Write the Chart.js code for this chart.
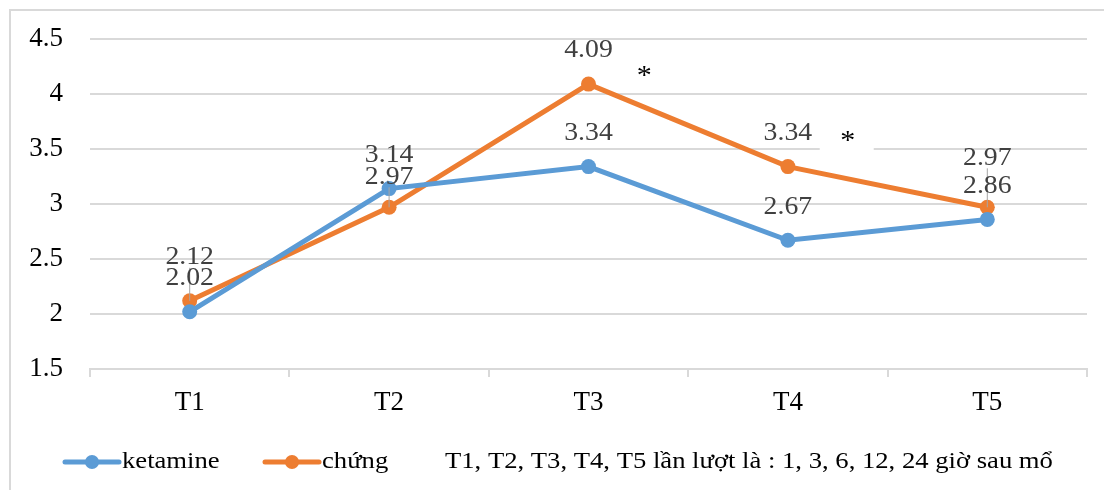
<!DOCTYPE html>
<html>
<head>
<meta charset="utf-8">
<script src="https://cdn.jsdelivr.net/npm/chart.js@4.4.1/dist/chart.umd.min.js"></script>
<style>
  html, body { margin: 0; padding: 0; background: #fff; }
  #wrap { width: 1104px; height: 490px; position: relative; }
</style>
</head>
<body>
<div id="wrap"><canvas id="c" width="1104" height="490"></canvas></div>
<script>
// ---- data ----
const categories = ['T1', 'T2', 'T3', 'T4', 'T5'];
const ketamine = [2.02, 3.14, 3.34, 2.67, 2.86];
const chung = [2.12, 2.97, 4.09, 3.34, 2.97];
const seriesNames = ['ketamine', 'chứng'];
const footnote = 'T1, T2, T3, T4, T5 lần lượt là : 1, 3, 6, 12, 24 giờ sau mổ';
const yTicks = [1.5, 2, 2.5, 3, 3.5, 4, 4.5];
const significance = [ { x: 2.28, y: 4.2, text: '*', box: false }, { x: 3.30, y: 3.61, text: '*', box: true } ];

const BLUE = '#5B9BD5', ORANGE = '#ED7D31', GRID = '#d9d9d9';
const SERIF = '"Liberation Serif", "Times New Roman", serif';
const STRETCH = 1.11;

// label placement (pixel offsets above the point, style only)
const labelOffsets = [[-33, -33, -33, -33, -33], [-43, -30, -34, -33, -49]];
const leader = [[false, false, false, false, false], [true, true, false, false, true]];

function stretchedText(ctx, text, x, y, align) {
  ctx.save();
  ctx.translate(x, y);
  ctx.scale(STRETCH, 1);
  ctx.textAlign = align;
  ctx.textBaseline = 'middle';
  ctx.fillText(text, 0, 0);
  ctx.restore();
}

const framePlugin = {
  id: 'frame',
  beforeDraw(chart) {
    const ctx = chart.ctx;
    ctx.save();
    ctx.fillStyle = '#fff';
    ctx.fillRect(0, 0, chart.width, chart.height);
    ctx.strokeStyle = GRID;
    ctx.lineWidth = 2;
    ctx.strokeRect(10, 10, chart.width + 20, chart.height + 20);
    ctx.restore();
  }
};

const starPlugin = {
  id: 'stars',
  beforeDatasetsDraw(chart) {
    const ctx = chart.ctx, xs = chart.scales.x, ys = chart.scales.y;
    ctx.save();
    significance.forEach(s => {
      const px = xs.getPixelForValue(s.x), py = ys.getPixelForValue(s.y);
      if (s.box) { ctx.fillStyle = '#fff'; ctx.fillRect(px - 28, py - 20, 54, 34); }
      ctx.fillStyle = '#000';
      ctx.font = '27px ' + SERIF;
      stretchedText(ctx, s.text, px, py + 5, 'center');
    });
    ctx.restore();
  }
};

const labelPlugin = {
  id: 'valueLabels',
  afterDatasetsDraw(chart) {
    const ctx = chart.ctx;
    ctx.save();
    chart.data.datasets.forEach((ds, di) => {
      const meta = chart.getDatasetMeta(di);
      meta.data.forEach((pt, i) => {
        const ly = pt.y + labelOffsets[di][i];
        if (leader[di][i]) {
          ctx.strokeStyle = '#a6a6a6';
          ctx.lineWidth = 1;
          ctx.beginPath();
          ctx.moveTo(pt.x, pt.y);
          ctx.lineTo(pt.x, ly + 10);
          ctx.stroke();
        }
      });
    });
    chart.data.datasets.forEach((ds, di) => {
      const meta = chart.getDatasetMeta(di);
      meta.data.forEach((pt, i) => {
        const ly = pt.y + labelOffsets[di][i];
        ctx.fillStyle = '#404040';
        ctx.font = '25px ' + SERIF;
        stretchedText(ctx, ds.data[i].toFixed(2), pt.x, ly, 'center');
      });
    });
    ctx.restore();
  }
};

const legendPlugin = {
  id: 'bottomLegend',
  afterDraw(chart) {
    const ctx = chart.ctx;
    const y = 462;
    ctx.save();
    const items = [
      { color: BLUE, name: seriesNames[0], x: 65 },
      { color: ORANGE, name: seriesNames[1], x: 265 }
    ];
    items.forEach(it => {
      ctx.strokeStyle = it.color;
      ctx.lineWidth = 5;
      ctx.lineCap = 'round';
      ctx.beginPath();
      ctx.moveTo(it.x, y);
      ctx.lineTo(it.x + 54, y);
      ctx.stroke();
      ctx.fillStyle = it.color;
      ctx.beginPath();
      ctx.arc(it.x + 27, y, 7, 0, Math.PI * 2);
      ctx.fill();
      ctx.fillStyle = '#000';
      ctx.font = '24px ' + SERIF;
      stretchedText(ctx, it.name, it.x + 57, y, 'left');
    });
    ctx.fillStyle = '#000';
    ctx.font = '24px ' + SERIF;
    stretchedText(ctx, footnote, 445, y, 'left');
    ctx.restore();
  }
};

new Chart(document.getElementById('c'), {
  type: 'line',
  data: {
    labels: categories,
    datasets: [
      { label: seriesNames[0], data: ketamine, borderColor: BLUE, backgroundColor: BLUE,
        borderWidth: 5, pointRadius: 7.5, pointHoverRadius: 7.5, pointBorderWidth: 0, tension: 0 },
      { label: seriesNames[1], data: chung, borderColor: ORANGE, backgroundColor: ORANGE,
        borderWidth: 5, pointRadius: 7.5, pointHoverRadius: 7.5, pointBorderWidth: 0, tension: 0 }
    ]
  },
  options: {
    responsive: false,
    devicePixelRatio: 1,
    animation: false,
    events: [],
    layout: { padding: { top: 39, right: 17, left: 0, bottom: 0 } },
    plugins: { legend: { display: false }, tooltip: { enabled: false } },
    scales: {
      x: {
        offset: true,
        grid: { display: true, drawOnChartArea: false, drawTicks: true, tickLength: 8, offset: true, color: GRID, lineWidth: 2 },
        border: { display: true, color: GRID, width: 2 },
        ticks: { color: '#000', font: { family: SERIF, size: 27 }, padding: 10 },
        afterFit(s) { s.height = 121; }
      },
      y: {
        min: 1.5, max: 4.5,
        afterBuildTicks(s) { s.ticks = yTicks.map(v => ({ value: v })); },
        grid: { color: GRID, lineWidth: 2, drawTicks: true, tickLength: 22, tickColor: 'rgba(0,0,0,0)' },
        border: { display: false },
        ticks: { color: '#000', font: { family: SERIF, size: 27 }, padding: 5,
                 callback: v => String(v) },
        afterFit(s) { s.width = 90; }
      }
    }
  },
  plugins: [framePlugin, starPlugin, labelPlugin, legendPlugin]
});
</script>
</body>
</html>
